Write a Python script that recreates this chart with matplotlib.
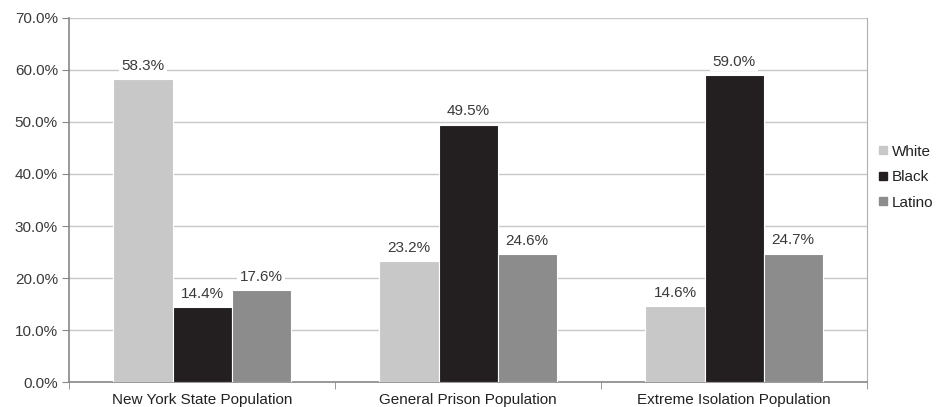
import matplotlib.pyplot as plt
import numpy as np

plt.rcParams['font.family'] = ['Liberation Sans', 'DejaVu Sans']

categories = ['New York State Population', 'General Prison Population', 'Extreme Isolation Population']
groups = ['White', 'Black', 'Latino']
white = [58.3, 23.2, 14.6]
black = [14.4, 49.5, 59.0]
latino = [17.6, 24.6, 24.7]
colors = ['#c8c8c8', '#231f20', '#8c8c8c']

fig = plt.figure(figsize=(9.51, 4.07), dpi=100)
ax = fig.add_axes([0.0726, 0.0614, 0.8391, 0.8944])

x = np.arange(len(categories))
w = 0.222
txt = '#3a3a3a'
fs = 11
for i, (vals, c, name) in enumerate(zip([white, black, latino], colors, groups)):
    bars = ax.bar(x + (i - 1) * w, vals, w, color=c, edgecolor='white', linewidth=0.8,
                  label=name, zorder=3)
    for b, v in zip(bars, vals):
        ax.text(b.get_x() + b.get_width() / 2, v + 1.2, f'{v:.1f}%', ha='center', va='bottom',
                fontsize=fs, color=txt, zorder=4,
                bbox=dict(facecolor='white', edgecolor='none', pad=1.5))

ax.set_xlim(-0.5, 2.5)
ax.set_ylim(0, 70)
ax.set_yticks(np.arange(0, 71, 10))
ax.set_yticklabels([f'{t:.1f}%' for t in np.arange(0, 71, 10)], fontsize=fs, color=txt)
ax.set_xticks(x)
ax.set_xticklabels(categories, fontsize=fs, color='#222222')
ax.set_xticks([-0.5, 0.5, 1.5, 2.5], minor=True)
ax.tick_params(axis='x', which='major', length=0, pad=8)
ax.tick_params(axis='x', which='minor', length=5, color='#888888')
ax.tick_params(axis='y', length=5, color='#888888', pad=3)
ax.yaxis.grid(True, color='#c8c8c8', linewidth=1, zorder=0)
ax.set_axisbelow(True)
ax.spines['top'].set_visible(False)
ax.spines['left'].set_color('#888888')
ax.spines['bottom'].set_color('#888888')
ax.spines['right'].set_color('#b0b0b0')
ax.spines['left'].set_linewidth(1.2)
ax.spines['bottom'].set_linewidth(1.2)

handles = [plt.Line2D([], [], marker='s', linestyle='none', markersize=6, color=c) for c in colors]
leg = fig.legend(handles, groups, loc='center left', bbox_to_anchor=(0.906, 0.565),
                 frameon=False, fontsize=fs, handletextpad=0.1, labelspacing=0.75,
                 handlelength=1.0)
for t in leg.get_texts():
    t.set_color('#222222')

fig.savefig('out.png', dpi=100)
